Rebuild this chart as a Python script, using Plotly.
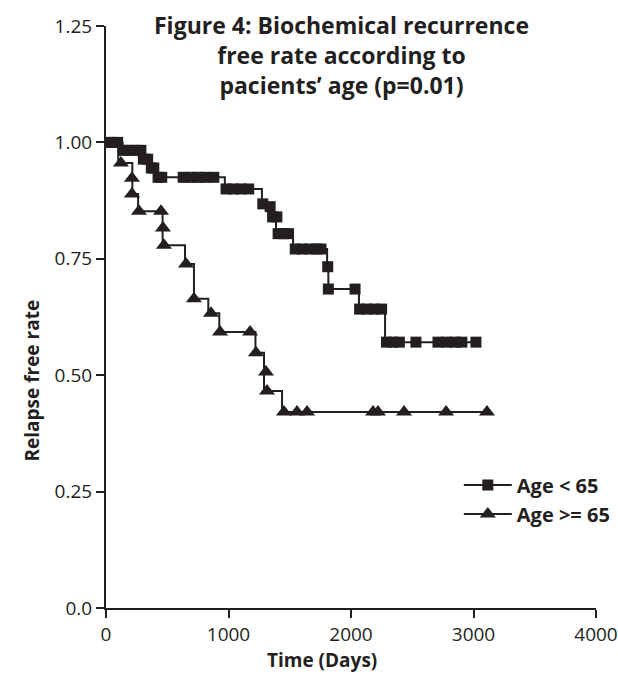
import plotly.graph_objects as go

# ---- Data ----
# Age < 65 : Kaplan-Meier step curve
young_step_days = [0, 135, 300, 365, 420, 970, 1273, 1330, 1350, 1388, 1527, 1805, 1815, 2065, 2278, 3020]
young_step_surv = [1.0, 0.983, 0.964, 0.945, 0.925, 0.900, 0.868, 0.862, 0.840, 0.804, 0.771, 0.733, 0.685, 0.642, 0.571, 0.571]
# Age < 65 : symbols
young_mark_days = [15, 55, 95, 140, 190, 240, 285, 305, 340, 370, 390, 425, 455, 630, 690, 750, 810, 880,
                   980, 1040, 1100, 1165, 1280, 1340, 1360, 1395, 1405, 1450, 1490, 1545, 1600, 1660, 1720, 1755,
                   1810, 1815, 2033, 2070, 2130, 2190, 2250, 2290, 2340, 2395, 2530, 2710, 2780, 2850, 2905, 3020]
young_mark_surv = [1.0, 1.0, 1.0, 0.983, 0.983, 0.983, 0.983, 0.964, 0.964, 0.945, 0.945, 0.925, 0.925, 0.925, 0.925, 0.925, 0.925, 0.925,
                   0.900, 0.900, 0.900, 0.900, 0.868, 0.862, 0.840, 0.840, 0.804, 0.804, 0.804, 0.771, 0.771, 0.771, 0.771, 0.771,
                   0.733, 0.685, 0.685, 0.642, 0.642, 0.642, 0.642, 0.571, 0.571, 0.571, 0.571, 0.571, 0.571, 0.571, 0.571, 0.571]

# Age >= 65 : Kaplan-Meier step curve
old_step_days = [0, 100, 215, 262, 462, 645, 718, 835, 925, 1220, 1290, 1437, 3110]
old_step_surv = [1.0, 0.956, 0.889, 0.852, 0.779, 0.739, 0.664, 0.633, 0.593, 0.548, 0.466, 0.421, 0.421]
# Age >= 65 : symbols
old_mark_days = [122, 212, 212, 269, 449, 465, 473, 653, 718, 857, 931, 1176, 1224, 1306, 1314,
                 1453, 1559, 1641, 2180, 2220, 2433, 2776, 3110]
old_mark_surv = [0.956, 0.923, 0.889, 0.852, 0.852, 0.816, 0.779, 0.739, 0.664, 0.633, 0.593, 0.593, 0.548, 0.507, 0.466,
                 0.421, 0.421, 0.421, 0.421, 0.421, 0.421, 0.421, 0.421]

x_ticks = [0, 1000, 2000, 3000, 4000]
y_ticks = [0.0, 0.25, 0.50, 0.75, 1.00, 1.25]
y_tick_text = ["0.0", "0.25", "0.50", "0.75", "1.00", "1.25"]

INK = "#231f20"
FONT = "Open Sans"

fig = go.Figure()

fig.add_trace(go.Scatter(x=old_step_days, y=old_step_surv, mode="lines", line=dict(color=INK, width=2, shape="hv"),
                         showlegend=False, hoverinfo="skip"))
fig.add_trace(go.Scatter(x=young_step_days, y=young_step_surv, mode="lines", line=dict(color=INK, width=2, shape="hv"),
                         showlegend=False, hoverinfo="skip"))
fig.add_trace(go.Scatter(x=old_mark_days, y=old_mark_surv, mode="markers",
                         marker=dict(symbol="triangle-up", size=14, color=INK), showlegend=False))
fig.add_trace(go.Scatter(x=young_mark_days, y=young_mark_surv, mode="markers",
                         marker=dict(symbol="square", size=11, color=INK), showlegend=False))

# legend entries
fig.add_trace(go.Scatter(x=[None], y=[None], mode="lines+markers", name="Age < 65",
                         line=dict(color=INK, width=2), marker=dict(symbol="square", size=11, color=INK)))
fig.add_trace(go.Scatter(x=[None], y=[None], mode="lines+markers", name="Age >= 65",
                         line=dict(color=INK, width=2), marker=dict(symbol="triangle-up", size=14, color=INK)))

fig.update_layout(
    width=618, height=674,
    margin=dict(l=106, r=22, t=26, b=66, autoexpand=False),
    paper_bgcolor="white", plot_bgcolor="white",
    font=dict(family=FONT, color=INK, size=19),
    showlegend=True,
    legend=dict(x=0.72, y=0.245, xanchor="left", yanchor="top", bgcolor="rgba(0,0,0,0)",
                font=dict(family=FONT, size=20, color=INK, weight="bold"),
                itemwidth=48, tracegroupgap=0),
    annotations=[
        dict(text="Figure 4: Biochemical recurrence<br>free rate according to<br>pacients\u2019 age (p=0.01)",
             xref="paper", yref="paper", x=0.48, y=1.033, xanchor="center", yanchor="top",
             showarrow=False, font=dict(family=FONT, size=23, color=INK, weight="bold")),
        dict(text="Time (Days)", xref="paper", yref="paper", x=0.44, y=-0.064, xanchor="center", yanchor="top",
             showarrow=False, font=dict(family=FONT, size=19, color=INK, weight="bold")),
        dict(text="Relapse free rate", xref="paper", yref="paper", x=-0.15, y=0.39, xanchor="center", yanchor="middle",
             textangle=-90, showarrow=False, font=dict(family=FONT, size=19, color=INK, weight="bold")),
    ],
)

fig.update_xaxes(range=[0, 4000], tickvals=x_ticks, showgrid=False, zeroline=False,
                 showline=True, linecolor=INK, linewidth=2, ticks="outside", ticklen=8, tickwidth=2,
                 tickcolor=INK, tickfont=dict(family=FONT, size=19, color=INK))
fig.update_yaxes(range=[0, 1.25], tickvals=y_ticks, ticktext=y_tick_text, showgrid=False, zeroline=False,
                 showline=True, linecolor=INK, linewidth=2, ticks="outside", ticklen=8, tickwidth=2,
                 tickcolor=INK, tickfont=dict(family=FONT, size=19, color=INK))

fig.write_html("out.html")
